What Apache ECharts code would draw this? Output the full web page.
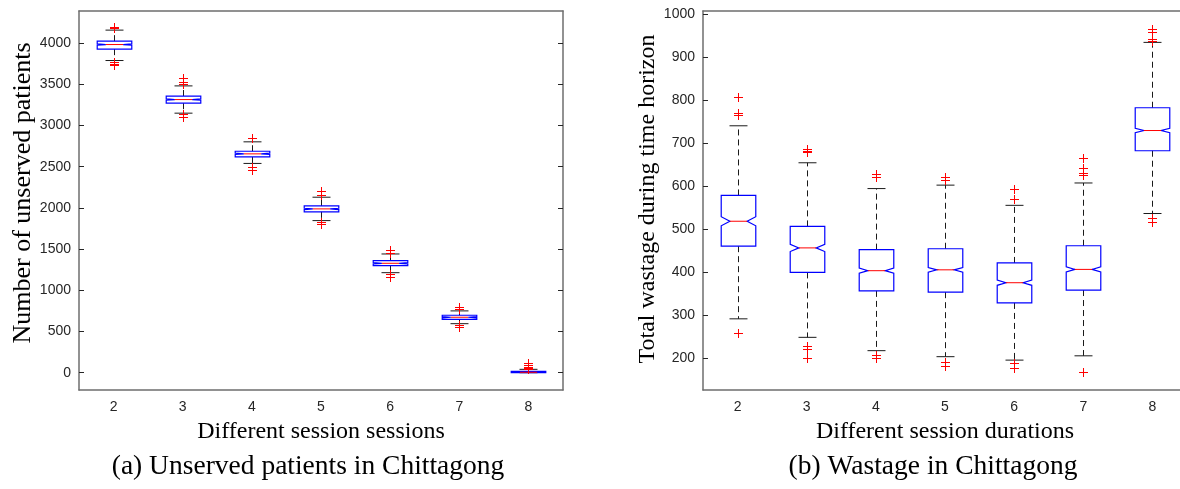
<!DOCTYPE html>
<html>
<head>
<meta charset="utf-8">
<script src="https://cdn.jsdelivr.net/npm/echarts@6/dist/echarts.min.js"></script>
<style>
html, body { margin: 0; padding: 0; background: #fff; }
#chart { width: 1180px; height: 489px; }
</style>
</head>
<body>
<div id="chart"></div>
<script>
// session values on both x axes
var categories = ['2', '3', '4', '5', '6', '7', '8'];

// (a) unserved patients: whiskers, quartiles, median, notch half-height
var lowA    = [3789, 3150, 2540, 1846, 1214, 595, 0];
var q1A     = [3927, 3271, 2619, 1952, 1299, 648, 0];
var medA    = [3983, 3315, 2656, 1988, 1328, 673, 5];
var q3A     = [4024, 3358, 2688, 2024, 1360, 697, 15];
var highA   = [4158, 3481, 2802, 2130, 1441, 750, 41];
var notchA  = [8, 8, 8, 8, 8, 8, 3];
var outliersA = [
    [4182, 4200, 3769, 3750, 3736],
    [3506, 3530, 3575, 3141, 3109],
    [2846, 2500, 2460],
    [2160, 2200, 1830, 1800],
    [1453, 1490, 1200, 1160],
    [773, 801, 580, 560],
    [50, 60, 75, 90, 114]
];
var yTicksA = [0, 500, 1000, 1500, 2000, 2500, 3000, 3500, 4000];

// (b) wastage
var lowB    = [291, 248, 217, 203, 195, 205, 536];
var q1B     = [460, 399, 356, 353, 328, 358, 682];
var medB    = [518, 456, 403, 405, 375, 406, 729];
var q3B     = [578, 506, 452, 454, 421, 461, 782];
var highB   = [740, 654, 594, 602, 555, 607, 934];
var notchB  = [10.5, 8.5, 6, 5.5, 6, 6, 5];
var outliersB = [
    [808, 769, 764, 259],
    [687, 682, 678, 228, 222, 199],
    [627, 621, 207, 201],
    [621, 615, 191, 181],
    [594, 569, 188, 176],
    [665, 643, 630, 625, 167],
    [966, 958, 942, 938, 525, 517]
];
var yTicksB = [200, 300, 400, 500, 600, 700, 800, 900, 1000];

var chart = echarts.init(document.getElementById('chart'));

var frameColor = '#6e6e6e';
var labelFont = 'Liberation Sans';
var serif = 'Liberation Serif';

function boxRows(low, q1, med, q3, high, notch) {
    return categories.map(function (c, i) {
        return [i, low[i], q1[i], med[i], q3[i], high[i], notch[i]];
    });
}

function outlierRows(list) {
    var rows = [];
    list.forEach(function (vals, i) {
        vals.forEach(function (v) {
            rows.push([i, v]);
        });
    });
    return rows;
}

function renderBox(params, api) {
    var i = api.value(0);
    var band = api.size([1, 0])[0];
    var half = band * 0.25;
    var cap = band * 0.13;
    var x = Math.round(api.coord([i, 0])[0]) + 0.5;
    var yLow = api.coord([i, api.value(1)])[1];
    var yQ1 = api.coord([i, api.value(2)])[1];
    var yMed = api.coord([i, api.value(3)])[1];
    var yQ3 = api.coord([i, api.value(4)])[1];
    var yHigh = api.coord([i, api.value(5)])[1];
    var n = api.value(6);
    var yNu = api.coord([i, api.value(3) + n])[1];
    var yNd = api.coord([i, api.value(3) - n])[1];
    var inset = half * 0.5;
    var xl = x - half, xr = x + half;
    var dash = { stroke: '#1a1a1a', lineWidth: 1, lineDash: [6, 4] };
    var solid = { stroke: '#1a1a1a', lineWidth: 1 };
    return {
        type: 'group',
        children: [
            { type: 'line', shape: { x1: x, y1: yQ3, x2: x, y2: yHigh }, style: dash },
            { type: 'line', shape: { x1: x, y1: yQ1, x2: x, y2: yLow }, style: dash },
            { type: 'line', shape: { x1: x - cap, y1: yHigh, x2: x + cap, y2: yHigh }, style: solid },
            { type: 'line', shape: { x1: x - cap, y1: yLow, x2: x + cap, y2: yLow }, style: solid },
            {
                type: 'polygon',
                shape: {
                    points: [
                        [xl, yQ3], [xr, yQ3], [xr, yNu], [xr - inset, yMed], [xr, yNd],
                        [xr, yQ1], [xl, yQ1], [xl, yNd], [xl + inset, yMed], [xl, yNu]
                    ]
                },
                style: { fill: 'none', stroke: '#0000ff', lineWidth: 1.2 }
            },
            { type: 'line', shape: { x1: xl + inset, y1: yMed, x2: xr - inset, y2: yMed }, style: { stroke: '#ff0000', lineWidth: 1 } }
        ]
    };
}

function renderPlus(params, api) {
    var p = api.coord([api.value(0), api.value(1)]);
    var x = Math.round(p[0]) + 0.5, y = Math.round(p[1]) + 0.5;
    var st = { stroke: '#ff0000', lineWidth: 1 };
    return {
        type: 'group',
        children: [
            { type: 'line', shape: { x1: x - 4.5, y1: y, x2: x + 4.5, y2: y }, style: st },
            { type: 'line', shape: { x1: x, y1: y - 4.5, x2: x, y2: y + 4.5 }, style: st }
        ]
    };
}

function xAxisPair(grid) {
    return [{
        type: 'category', gridIndex: grid, position: 'bottom', data: categories,
        axisLine: { onZero: false, lineStyle: { color: frameColor, width: 1.5 } },
        axisTick: { inside: true, alignWithLabel: true, length: 5, lineStyle: { color: '#262626' } },
        axisLabel: { margin: 10, color: '#262626', fontFamily: labelFont, fontSize: 14 },
        splitLine: { show: false }
    }, {
        type: 'category', gridIndex: grid, position: 'top', data: categories,
        axisLine: { onZero: false, lineStyle: { color: frameColor, width: 1.5 } },
        axisTick: { inside: true, alignWithLabel: true, length: 5, lineStyle: { color: '#262626' } },
        axisLabel: { show: false },
        splitLine: { show: false }
    }];
}

function plain(v) {
    return String(v);
}

function yAxisPair(grid, min, max, ticks) {
    return [{
        type: 'value', gridIndex: grid, position: 'left', min: min, max: max,
        axisLine: { show: true, onZero: false, lineStyle: { color: frameColor, width: 1.5 } },
        axisTick: { show: true, inside: true, length: 5, customValues: ticks, lineStyle: { color: '#262626' } },
        axisLabel: { margin: 8, customValues: ticks, formatter: plain, color: '#262626', fontFamily: labelFont, fontSize: 14 },
        splitLine: { show: false }
    }, {
        type: 'value', gridIndex: grid, position: 'right', min: min, max: max,
        axisLine: { show: true, onZero: false, lineStyle: { color: frameColor, width: 1.5 } },
        axisTick: { show: true, inside: true, length: 5, customValues: ticks, lineStyle: { color: '#262626' } },
        axisLabel: { show: false },
        splitLine: { show: false }
    }];
}

function title(text, x, y, size, rotate) {
    return {
        type: 'text', x: x, y: y, rotation: rotate ? Math.PI / 2 : 0,
        style: { text: text, font: size + 'px "' + serif + '"', fill: '#000', align: 'center', verticalAlign: 'middle' }
    };
}

var option = {
    backgroundColor: '#ffffff',
    animation: false,
    grid: [
        { left: 79, top: 11, width: 484, height: 379, containLabel: false, outerBoundsMode: 'none' },
        { left: 703, top: 11, width: 484, height: 379, containLabel: false, outerBoundsMode: 'none' }
    ],
    xAxis: xAxisPair(0).concat(xAxisPair(1)),
    yAxis: yAxisPair(0, -210, 4390, yTicksA).concat(yAxisPair(1, 125.5, 1007, yTicksB)),
    series: [
        { type: 'custom', xAxisIndex: 0, yAxisIndex: 0, renderItem: renderBox, data: boxRows(lowA, q1A, medA, q3A, highA, notchA) },
        { type: 'custom', xAxisIndex: 0, yAxisIndex: 0, renderItem: renderPlus, data: outlierRows(outliersA) },
        { type: 'custom', xAxisIndex: 2, yAxisIndex: 2, renderItem: renderBox, data: boxRows(lowB, q1B, medB, q3B, highB, notchB) },
        { type: 'custom', xAxisIndex: 2, yAxisIndex: 2, renderItem: renderPlus, data: outlierRows(outliersB) }
    ],
    graphic: [
        title('Number of unserved patients', 23, 193, 26, true),
        title('Different session sessions', 321, 432, 24, false),
        title('(a) Unserved patients in Chittagong', 308, 467, 27.5, false),
        title('Total wastage during time horizon', 648, 199, 24, true),
        title('Different session durations', 945, 432, 24, false),
        title('(b) Wastage in Chittagong', 933, 467, 27.5, false)
    ]
};
chart.setOption(option);
</script>
</body>
</html>
